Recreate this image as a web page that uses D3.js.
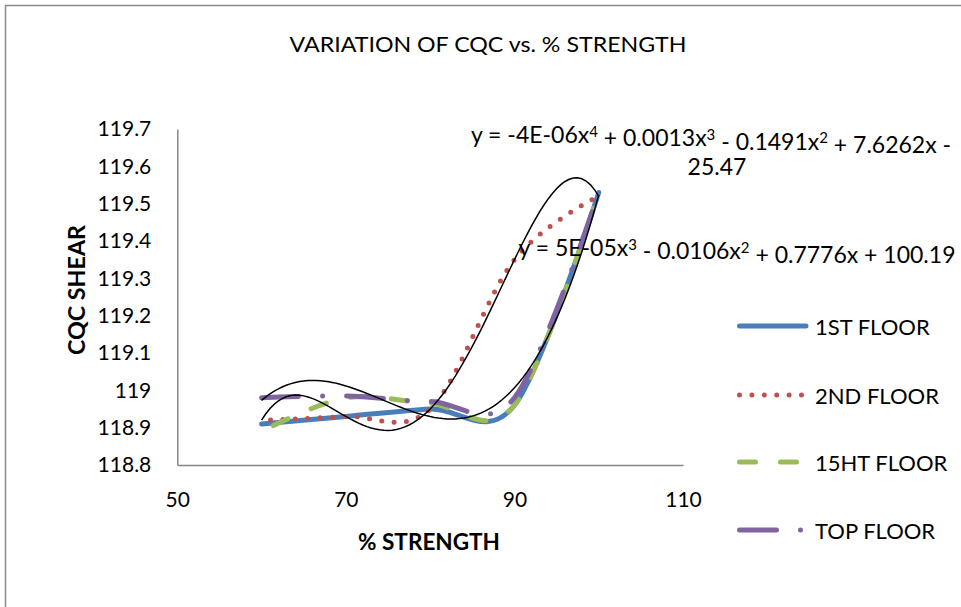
<!DOCTYPE html>
<html>
<head>
<meta charset="utf-8">
<script src="https://cdn.jsdelivr.net/npm/d3@7/dist/d3.min.js"></script>
<style>
  html, body { margin: 0; padding: 0; background: #fff; }
  svg { display: block; }
  text { font-family: Lato, "Open Sans", sans-serif; fill: #000; }
</style>
</head>
<body>
<svg id="chart" width="961" height="607"></svg>
<script>
// ---- data ----
const strength = [60, 70, 80, 90, 100];
const floor1   = [118.91, 118.93, 118.95, 118.96, 119.53];
const floor2   = [118.92, 118.93, 118.95, 119.35, 119.52];
const floor15  = [118.89, 118.98, 118.965, 118.96, 119.53];
const floorTop = [118.98, 118.985, 118.97, 118.98, 119.53];
const seriesNames = ["1ST FLOOR", "2ND FLOOR", "15HT FLOOR", "TOP FLOOR"];
const xTicks = [50, 70, 90, 110];
const yTicks = [118.8, 118.9, 119.0, 119.1, 119.2, 119.3, 119.4, 119.5, 119.6, 119.7];

const svg = d3.select("#chart");

// outer chart border
svg.append("rect").attr("x", 5.5).attr("y", 5.5).attr("width", 1000).attr("height", 700)
  .attr("fill", "none").attr("stroke", "#8c8c8c").attr("stroke-width", 1.5);

const x = d3.scaleLinear().domain([50, 110]).range([177.3, 683]);
const y = d3.scaleLinear().domain([118.8, 119.7]).range([465, 129]);

// axes
const xAxis = d3.axisBottom(x).tickValues(xTicks).tickSize(0).tickPadding(24).tickFormat(d3.format("d"));
const gx = svg.append("g").attr("transform", `translate(0,${y(118.8)})`).call(xAxis);
gx.select(".domain").attr("stroke", "#868686").attr("stroke-width", 1.5);
gx.selectAll("text").style("font-size", "21px").attr("dy", "0.35em").attr("y", 35);

const yAxis = d3.axisLeft(y).tickValues(yTicks).tickSize(0).tickPadding(26)
  .tickFormat(d => String(+d.toFixed(1)));
const gy = svg.append("g").attr("transform", `translate(${x(50)},0)`).call(yAxis);
gy.select(".domain").attr("stroke", "#868686").attr("stroke-width", 1.5);
gy.selectAll("text").style("font-size", "21px");

// titles
svg.append("text").attr("x", 488).attr("y", 43).attr("text-anchor", "middle")
  .attr("dominant-baseline", "central").style("font-size", "22px")
  .attr("textLength", 397).attr("lengthAdjust", "spacingAndGlyphs")
  .text("VARIATION OF CQC vs. % STRENGTH");
svg.append("text").attr("x", 429).attr("y", 541).attr("text-anchor", "middle")
  .attr("dominant-baseline", "central").style("font-size", "22px").style("font-weight", "bold")
  .attr("textLength", 142).attr("lengthAdjust", "spacingAndGlyphs")
  .text("% STRENGTH");
svg.append("text").attr("transform", "translate(76,290) rotate(-90)").attr("text-anchor", "middle")
  .attr("dominant-baseline", "central").style("font-size", "22px").style("font-weight", "bold")
  .attr("textLength", 130).attr("lengthAdjust", "spacingAndGlyphs")
  .text("CQC  SHEAR");

// series
const styles = [
  { color: "#4A7EBB", dash: null, offset: 0 },
  { color: "#C0504D", dash: "0,12.4", offset: 3.4 },
  { color: "#9BBB59", dash: "16,25", offset: 27.5 },
  { color: "#8064A2", dash: "37,24,0,24", offset: 0 }
];
const allSeries = [floor1, floor2, floor15, floorTop];
const line = d3.line().x(d => x(d[0])).y(d => y(d[1])).curve(d3.curveCardinal.tension(0));

allSeries.forEach((vals, i) => {
  const pts = strength.map((s, j) => [s, vals[j]]);
  const p = svg.append("path").datum(pts).attr("d", line)
    .attr("fill", "none").attr("stroke", styles[i].color).attr("stroke-width", 5)
    .attr("stroke-linecap", "round").attr("stroke-linejoin", "round");
  if (styles[i].dash) p.attr("stroke-dasharray", styles[i].dash).attr("stroke-dashoffset", styles[i].offset);
});

// polynomial least-squares trendlines
function polyFit(xs, ys, order) {
  const xc = xs.map(v => (v - 80) / 10);
  const n = order + 1;
  const A = Array.from({ length: n }, () => new Array(n + 1).fill(0));
  for (let r = 0; r < n; r++) {
    for (let c = 0; c < n; c++) A[r][c] = d3.sum(xc, v => Math.pow(v, r + c));
    A[r][n] = d3.sum(xc, (v, k) => Math.pow(v, r) * ys[k]);
  }
  for (let i = 0; i < n; i++) {
    let m = i;
    for (let k = i + 1; k < n; k++) if (Math.abs(A[k][i]) > Math.abs(A[m][i])) m = k;
    [A[i], A[m]] = [A[m], A[i]];
    for (let k = 0; k < n; k++) {
      if (k === i) continue;
      const f = A[k][i] / A[i][i];
      for (let c = i; c <= n; c++) A[k][c] -= f * A[i][c];
    }
  }
  const coef = A.map((row, i) => row[n] / row[i]);
  return v => { const u = (v - 80) / 10; return coef.reduce((s, c, i) => s + c * Math.pow(u, i), 0); };
}
const trendLine = d3.line().x(d => x(d[0])).y(d => y(d[1]));
[[floor2, 4], [floorTop, 3]].forEach(([vals, order]) => {
  const f = polyFit(strength, vals, order);
  const pts = d3.range(60, 100.01, 0.5).map(v => [v, f(v)]);
  svg.append("path").datum(pts).attr("d", trendLine)
    .attr("fill", "none").attr("stroke", "#000").attr("stroke-width", 1.5);
});

// trendline equations
function eqLine(xc, yc, segs) {
  const t = svg.append("text").attr("x", xc).attr("y", yc).attr("text-anchor", "middle")
    .style("font-size", "23px");
  let raised = false;
  segs.forEach(s => {
    const ts = t.append("tspan");
    if (s.sup) { ts.attr("dy", "-0.42em").style("font-size", "15px").text(s.sup); raised = true; }
    else { if (raised) { ts.attr("dy", "0.42em"); raised = false; } ts.text(s.t); }
  });
}
eqLine(711, 143, [{ t: "y = -4E-06x" }, { sup: "4" }, { t: " + 0.0013x" }, { sup: "3" }, { t: " - 0.1491x" }, { sup: "2" }, { t: " + 7.6262x -" }]);
eqLine(717, 175, [{ t: "25.47" }]);
eqLine(737, 256, [{ t: "y = 5E-05x" }, { sup: "3" }, { t: " - 0.0106x" }, { sup: "2" }, { t: " + 0.7776x + 100.19" }]);

// legend
const legY = [326, 395, 462, 530];
seriesNames.forEach((name, i) => {
  const l = svg.append("line").attr("x1", 739.5).attr("x2", 806).attr("y1", legY[i]).attr("y2", legY[i])
    .attr("stroke", styles[i].color).attr("stroke-width", 5).attr("stroke-linecap", "round");
  if (styles[i].dash) l.attr("stroke-dasharray", styles[i].dash);
  svg.append("text").attr("x", 815).attr("y", legY[i]).attr("dominant-baseline", "central")
    .style("font-size", "22px").text(name);
});
</script>
</body>
</html>
